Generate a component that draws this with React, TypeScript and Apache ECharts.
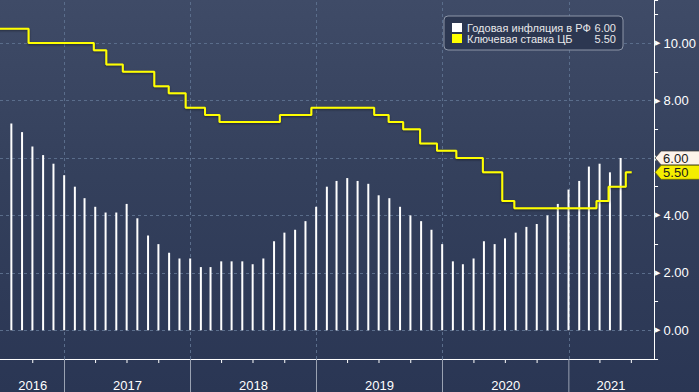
import React, { useEffect, useRef } from 'react';
import * as echarts from 'echarts';

const INFLATION_NAME = 'Годовая инфляция в РФ';
const KEY_RATE_NAME = 'Ключевая ставка ЦБ';

const INFLATION_MONTHS = [
  '2016-07', '2016-08', '2016-09', '2016-10', '2016-11', '2016-12',
  '2017-01', '2017-02', '2017-03', '2017-04', '2017-05', '2017-06',
  '2017-07', '2017-08', '2017-09', '2017-10', '2017-11', '2017-12',
  '2018-01', '2018-02', '2018-03', '2018-04', '2018-05', '2018-06',
  '2018-07', '2018-08', '2018-09', '2018-10', '2018-11', '2018-12',
  '2019-01', '2019-02', '2019-03', '2019-04', '2019-05', '2019-06',
  '2019-07', '2019-08', '2019-09', '2019-10', '2019-11', '2019-12',
  '2020-01', '2020-02', '2020-03', '2020-04', '2020-05', '2020-06',
  '2020-07', '2020-08', '2020-09', '2020-10', '2020-11', '2020-12',
  '2021-01', '2021-02', '2021-03', '2021-04', '2021-05',
];
const INFLATION = [
  7.2, 6.9, 6.4, 6.1, 5.8, 5.4,
  5.0, 4.6, 4.3, 4.1, 4.1, 4.4, 3.9, 3.3, 3.0, 2.7, 2.5, 2.5,
  2.2, 2.2, 2.4, 2.4, 2.4, 2.3, 2.5, 3.1, 3.4, 3.5, 3.8, 4.3,
  5.0, 5.2, 5.3, 5.2, 5.1, 4.7, 4.6, 4.3, 4.0, 3.8, 3.5, 3.0,
  2.4, 2.3, 2.5, 3.1, 3.0, 3.2, 3.4, 3.6, 3.7, 4.0, 4.4, 4.9,
  5.2, 5.7, 5.8, 5.5, 6.0,
];

const KEY_RATE_DATES = [
  '2016-06-14', '2016-09-19', '2017-03-27', '2017-05-02', '2017-06-19',
  '2017-09-18', '2017-10-30', '2017-12-18', '2018-02-12', '2018-03-26',
  '2018-09-17', '2018-12-17', '2019-06-17', '2019-07-29', '2019-09-09',
  '2019-10-28', '2019-12-16', '2020-02-10', '2020-04-27', '2020-06-22',
  '2020-07-27', '2021-03-22', '2021-04-26', '2021-06-15', '2021-07-02',
];
const KEY_RATE = [
  10.5, 10.0, 9.75, 9.25, 9.0,
  8.5, 8.25, 7.75, 7.5, 7.25,
  7.5, 7.75, 7.5, 7.25, 7.0,
  6.5, 6.25, 6.0, 5.5, 4.5,
  4.25, 4.5, 5.0, 5.5, 5.5,
];

const LEGEND_VALUES = ['6.00', '5.50'];
const TAG_VALUES = [6.0, 5.5];
const TAG_LABELS = ['6.00', '5.50'];

const YEAR_LABELS = ['2016', '2017', '2018', '2019', '2020', '2021'];
const YEAR_STARTS = ['2016-01-01', '2017-01-01', '2018-01-01', '2019-01-01', '2020-01-01', '2021-01-01'];
const QUARTER_TICKS = [
  '2016-10-01',
  '2017-04-01', '2017-07-01', '2017-10-01',
  '2018-04-01', '2018-07-01', '2018-10-01',
  '2019-04-01', '2019-07-01', '2019-10-01',
  '2020-04-01', '2020-07-01', '2020-10-01',
  '2021-04-01', '2021-07-01',
];
const GRID_Y = [0, 2, 4, 6, 8, 10];

const ts = (s: string) => new Date(s + 'T00:00:00').getTime();
const monthEnd = (m: string) => {
  const [y, mo] = m.split('-').map(Number);
  return new Date(y, mo, 0).getTime();
};

const X_MIN = ts('2016-07-01');
const X_MAX = ts('2021-09-02');
const Y_MIN = -1;
const Y_MAX = 11.5;

const FONT = '"Liberation Sans", Arial, sans-serif';
const GRID_COLOR = '#5a6d8b';

export default function App() {
  const ref = useRef<HTMLDivElement>(null);

  useEffect(() => {
    if (!ref.current) return;
    const chart = echarts.init(ref.current, undefined, { renderer: 'svg' });

    const yearData = YEAR_STARTS.map((s, i) => [
      ts(s),
      i + 1 < YEAR_STARTS.length ? ts(YEAR_STARTS[i + 1]) : X_MAX,
      Y_MIN,
    ]);

    const option: any = {
      animation: false,
      backgroundColor: 'transparent',
      grid: { left: 0, right: 41, top: 0, bottom: 33, containLabel: false },
      legend: {
        data: [INFLATION_NAME, KEY_RATE_NAME],
        orient: 'vertical',
        left: 444,
        top: 16,
        padding: [6, 7, 6, 8],
        itemGap: 0,
        itemWidth: 10,
        itemHeight: 9,
        icon: 'rect',
        selectedMode: false,
        backgroundColor: '#2c3751',
        borderColor: '#8d96a8',
        borderWidth: 1,
        borderRadius: 4,
        formatter: (name: string) => {
          const v = name === INFLATION_NAME ? LEGEND_VALUES[0] : LEGEND_VALUES[1];
          return `{n|${name}}{v|${v}}`;
        },
        textStyle: {
          color: '#e8e8ea',
          fontFamily: FONT,
          fontSize: 11,
          rich: {
            n: { width: 122, fontSize: 11, fontFamily: FONT, color: '#e8e8ea', lineHeight: 12 },
            v: { width: 27, align: 'right', fontSize: 11, fontFamily: FONT, color: '#e8e8ea', lineHeight: 12 },
          },
        },
      },
      xAxis: {
        type: 'time',
        min: X_MIN,
        max: X_MAX,
        axisLine: { show: true, onZero: false, lineStyle: { color: '#ffffff', width: 1 } },
        axisTick: { show: false },
        axisLabel: { show: false },
        splitLine: { show: false },
      },
      yAxis: {
        type: 'value',
        position: 'right',
        min: Y_MIN,
        max: Y_MAX,
        interval: 1,
        axisLine: { show: true, lineStyle: { color: '#ffffff', width: 1 } },
        axisTick: { show: true, length: 4, lineStyle: { color: '#ffffff' } },
        splitLine: { show: false },
        axisLabel: {
          margin: 1,
          formatter: (v: number) =>
            v >= 0 && v <= 10 && Math.abs(v % 2) < 1e-9 ? `{t|▶}{v|${v.toFixed(2)}}` : '',
          rich: {
            t: { fontSize: 7, fontFamily: 'DejaVu Sans', color: '#ffffff', padding: [0, 3, 0, 0] },
            v: { fontSize: 13, fontFamily: FONT, color: '#ffffff' },
          },
        },
      },
      series: [
        {
          name: INFLATION_NAME,
          type: 'bar',
          z: 3,
          barWidth: 2,
          itemStyle: { color: '#ffffff' },
          data: INFLATION_MONTHS.map((m, i) => [monthEnd(m), INFLATION[i]]),
          markLine: {
            silent: true,
            z: 1,
            symbol: ['none', 'none'],
            label: { show: false },
            lineStyle: { color: GRID_COLOR, type: [3, 3], width: 1 },
            data: [
              ...GRID_Y.map((y) => ({ yAxis: y })),
              ...YEAR_STARTS.slice(1).map((s) => ({ xAxis: ts(s) })),
            ],
          },
        },
        {
          name: KEY_RATE_NAME,
          type: 'line',
          z: 4,
          step: 'end',
          showSymbol: false,
          color: '#ffff00',
          lineStyle: {
            color: '#ffff00',
            width: 2,
            shadowColor: 'rgba(0,0,0,0.45)',
            shadowBlur: 2,
            shadowOffsetY: 1,
          },
          data: KEY_RATE_DATES.map((d, i) => [ts(d), KEY_RATE[i]]),
        },
        {
          type: 'custom',
          clip: false,
          silent: true,
          z: 5,
          encode: { x: [0, 1], y: 2 },
          data: yearData,
          renderItem: (params: any, api: any) => {
            const start = api.value(0);
            const end = api.value(1);
            const p0 = api.coord([Math.max(start, X_MIN), Y_MIN]);
            const p1 = api.coord([Math.min(end, X_MAX), Y_MIN]);
            const yb = p0[1];
            const children: any[] = [];
            if (start > X_MIN) {
              children.push({
                type: 'line',
                shape: { x1: p0[0], y1: yb, x2: p0[0], y2: api.getHeight() },
                style: { stroke: '#9aa2b2', lineWidth: 1 },
              });
            }
            children.push({
              type: 'text',
              style: {
                text: YEAR_LABELS[params.dataIndex],
                x: (p0[0] + p1[0]) / 2,
                y: yb + 26,
                align: 'center',
                verticalAlign: 'middle',
                fill: '#ffffff',
                fontSize: 13,
                fontFamily: FONT,
              },
            });
            return { type: 'group', children };
          },
        },
        {
          type: 'custom',
          clip: false,
          silent: true,
          z: 5,
          encode: { x: 0, y: 1 },
          data: QUARTER_TICKS.map((d) => [ts(d), Y_MIN]),
          renderItem: (params: any, api: any) => {
            const p = api.coord([api.value(0), api.value(1)]);
            return {
              type: 'line',
              shape: { x1: p[0], y1: p[1], x2: p[0], y2: p[1] + 4 },
              style: { stroke: '#ffffff', lineWidth: 1 },
            };
          },
        },
        {
          type: 'custom',
          clip: false,
          silent: true,
          z: 10,
          encode: { x: 0, y: 1 },
          data: TAG_VALUES.map((v) => [X_MAX, v]),
          renderItem: (params: any, api: any) => {
            const p = api.coord([api.value(0), api.value(1)]);
            const x = p[0] + 2;
            const y = p[1];
            const isInfl = params.dataIndex === 0;
            return {
              type: 'group',
              children: [
                {
                  type: 'polygon',
                  shape: {
                    points: [
                      [x, y],
                      [x + 6, y - 7],
                      [x + 50, y - 7],
                      [x + 50, y + 7],
                      [x + 6, y + 7],
                    ],
                  },
                  style: {
                    fill: isInfl ? '#fdf3ea' : '#f5ee00',
                    stroke: isInfl ? '#3a3a3a' : '#6b6a00',
                    lineWidth: 0.8,
                  },
                },
                {
                  type: 'text',
                  style: {
                    text: TAG_LABELS[params.dataIndex],
                    x: x + 8,
                    y: y + 0.5,
                    align: 'left',
                    verticalAlign: 'middle',
                    fill: '#1b1b1b',
                    fontSize: 13,
                    fontFamily: FONT,
                  },
                },
              ],
            };
          },
        },
      ],
    };

    chart.setOption(option);
    return () => chart.dispose();
  }, []);

  return (
    <div
      style={{
        position: 'fixed',
        left: 0,
        top: 0,
        width: 699,
        height: 392,
        background: 'linear-gradient(180deg, #3f4b67 0%, #34405c 45%, #2a3654 100%)',
      }}
    >
      <div ref={ref} style={{ width: 699, height: 392 }} />
    </div>
  );
}
